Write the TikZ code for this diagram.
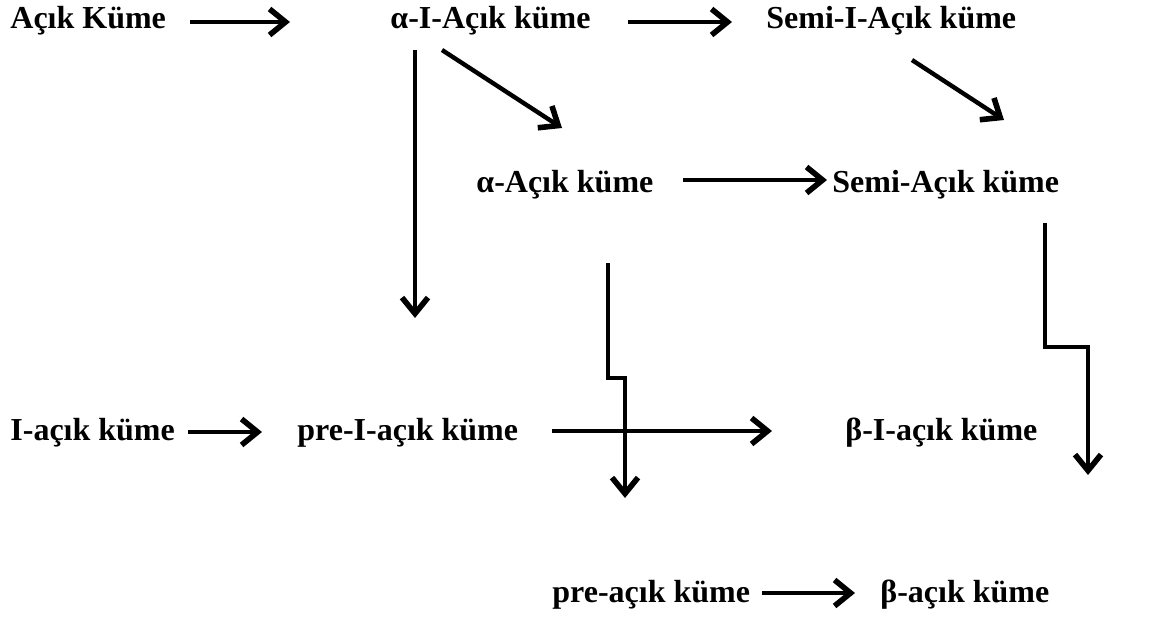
\documentclass[tikz,border=0pt]{standalone}
\usepackage{fontspec}
\setmainfont{Liberation Serif}
\usetikzlibrary{arrows.meta}
\begin{document}
\begin{tikzpicture}[x=0.5pt,y=-0.5pt,
  lbl/.style={anchor=base west,inner sep=0pt,font=\fontsize{16pt}{19pt}\selectfont\bfseries},
  arr/.style={line width=2.2pt,-{Straight Barb[length=8pt,width=13pt,line width=2.8pt]}},
  zig/.style={arr,line join=miter}]
\useasboundingbox (0,0) rectangle (1155,616);
% set names
\node[lbl] (acik)  at (10,28)  {Açık Küme};
\node[lbl] (aI)    at (390,28) {α-I-Açık küme};
\node[lbl] (semiI) at (766,28) {Semi-I-Açık küme};
\node[lbl] (aA)    at (476,192) {α-Açık küme};
\node[lbl] (semiA) at (832,192) {Semi-Açık küme};
\node[lbl] (Iacik) at (10,440) {I-açık küme};
\node[lbl] (preI)  at (297,440) {pre-I-açık küme};
\node[lbl] (bI)    at (845,440) {β-I-açık küme};
\node[lbl] (pre)   at (552,602) {pre-açık küme};
\node[lbl] (b)     at (880,602) {β-açık küme};
% arrow ends
\coordinate (acik-o)  at (190,22);  \coordinate (aI-i)    at (290,22);
\coordinate (aI-o)    at (628,22);  \coordinate (semiI-i) at (732,22);
\coordinate (aI-d)    at (415,50);  \coordinate (preI-u)  at (415,318);
\coordinate (aI-s)    at (442,50);  \coordinate (aA-u)    at (562,128);
\coordinate (semiI-s) at (912,60);  \coordinate (semiA-u) at (1004,120);
\coordinate (aA-o)    at (683,180); \coordinate (semiA-i) at (827,180);
\coordinate (semiA-d) at (1045,223);\coordinate (b-u)     at (1088,475);
\coordinate (aA-d)    at (608,263); \coordinate (pre-u)   at (625,498);
\coordinate (Iacik-o) at (188,432); \coordinate (preI-i)  at (262,432);
\coordinate (preI-o)  at (552,431); \coordinate (bI-i)    at (772,431);
\coordinate (pre-o)   at (762,593); \coordinate (b-i)     at (855,593);
% implications
\draw[arr] (acik-o) -- (aI-i);
\draw[arr] (aI-o) -- (semiI-i);
\draw[arr] (aI-d) -- (preI-u);
\draw[arr] (aI-s) -- (aA-u);
\draw[arr] (semiI-s) -- (semiA-u);
\draw[arr] (aA-o) -- (semiA-i);
\draw[zig] (semiA-d) -- (1045,347) -- (1088,347) -- (b-u);
\draw[zig] (aA-d) -- (608,378) -- (625,378) -- (pre-u);
\draw[arr] (Iacik-o) -- (preI-i);
\draw[arr] (preI-o) -- (bI-i);
\draw[arr] (pre-o) -- (b-i);
\end{tikzpicture}
\end{document}
